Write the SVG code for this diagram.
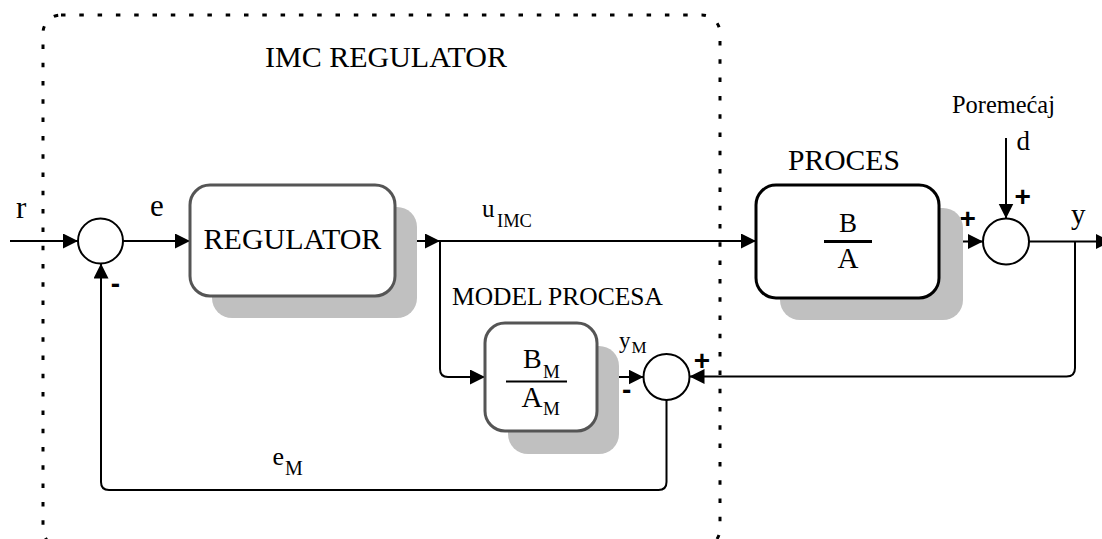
<svg xmlns="http://www.w3.org/2000/svg" width="1102" height="539" viewBox="0 0 1102 539">
  <style>
    text { font-family: "Liberation Serif", serif; fill: #000; }
    .sign { font-family: "Liberation Sans", sans-serif; font-weight: bold; font-size: 28px; text-anchor: middle; }
    .wire { fill: none; stroke: #000; stroke-width: 2; marker-end: url(#arrow); }
    .shadow { fill: #c0c0c0; stroke: none; }
    .box { fill: #fff; stroke: #555; stroke-width: 3; }
    .sum { fill: #fff; stroke: #000; stroke-width: 2; }
  </style>
  <defs>
    <marker id="arrow" markerUnits="userSpaceOnUse" markerWidth="16" markerHeight="16" refX="15" refY="7.5" orient="auto">
      <path d="M0,0 L15,7.5 L0,15 z" fill="#000"/>
    </marker>
  </defs>

  <rect width="1102" height="539" fill="#fff"/>

  <!-- dotted boundary of the IMC controller -->
  <g id="imc-boundary">
    <rect x="43" y="15" width="677" height="532" rx="18" ry="18" fill="none" stroke="#000" stroke-width="3" stroke-dasharray="4.5 13.8"/>
    <text x="265" y="67" font-size="30" font-family="Liberation Serif, serif">IMC REGULATOR</text>
  </g>

  <!-- connectors -->
  <g id="connectors">
    <path class="wire" d="M10,241 H78"/>
    <path class="wire" d="M123,241 H190"/>
    <path class="wire" d="M395,241 H440"/>
    <path class="wire" d="M440,241 H756"/>
    <path class="wire" d="M440,241 V369 Q440,377 448,377 H485"/>
    <path class="wire" d="M597,377 H643.5"/>
    <path class="wire" d="M1075,241 V368 Q1075,376.5 1066.5,376.5 H689.5"/>
    <path class="wire" d="M666.5,400 V482 Q666.5,490 658.5,490 H109 Q101,490 101,482 V263.5"/>
    <path class="wire" d="M939,241.5 H983"/>
    <path class="wire" d="M1006,138 V218.5"/>
    <path class="wire" d="M1029,241.5 H1111"/>

    <text x="16" y="218" font-size="31">r</text>
    <text x="150" y="216" font-size="31">e</text>
    <text x="482" y="217" font-size="25">u</text>
    <text x="497" y="227" font-size="18.5">IMC</text>
    <text x="619" y="348" font-size="23">y</text>
    <text x="631.5" y="353" font-size="17">M</text>
    <text x="272.5" y="465" font-size="26">e</text>
    <text x="285" y="475" font-size="20">M</text>
    <text x="952" y="113" font-size="24.4">Poremećaj</text>
    <text x="1016.5" y="150" font-size="27">d</text>
    <text x="1071" y="224" font-size="29">y</text>

    <text class="sign" x="115.5" y="293">-</text>
    <text class="sign" x="626.7" y="399">-</text>
    <text class="sign" x="702" y="370">+</text>
    <text class="sign" x="967.8" y="228">+</text>
    <text class="sign" x="1022.8" y="206">+</text>
  </g>

  <!-- summing junctions -->
  <g id="sum-input">
    <circle class="sum" cx="100.5" cy="241" r="22.5"/>
  </g>
  <g id="sum-model">
    <circle class="sum" cx="666.5" cy="377" r="23"/>
  </g>
  <g id="sum-disturbance">
    <circle class="sum" cx="1006" cy="241.5" r="23"/>
  </g>

  <!-- controller block -->
  <g id="regulator">
    <rect class="shadow" x="212" y="207" width="205" height="111" rx="20"/>
    <rect class="box" x="190" y="185" width="205" height="111" rx="20"/>
    <text x="292.5" y="249" font-size="30" text-anchor="middle">REGULATOR</text>
  </g>

  <!-- process model block -->
  <g id="model">
    <text x="452" y="305" font-size="25.5">MODEL PROCESA</text>
    <rect class="shadow" x="508" y="346" width="111" height="108" rx="20"/>
    <rect class="box" x="485" y="323" width="112" height="108" rx="20"/>
    <text x="523" y="368" font-size="28">B</text>
    <text x="543" y="378" font-size="19">M</text>
    <line x1="506" y1="381.5" x2="567" y2="381.5" stroke="#000" stroke-width="2.2"/>
    <text x="521.5" y="407" font-size="29">A</text>
    <text x="543" y="415" font-size="19">M</text>
  </g>

  <!-- plant block -->
  <g id="process">
    <text x="788" y="170" font-size="29.6">PROCES</text>
    <rect class="shadow" x="780" y="208" width="183" height="112" rx="20"/>
    <rect x="756" y="185" width="183" height="113" rx="20" fill="#fff" stroke="#000" stroke-width="3"/>
    <text x="848" y="232" font-size="27" text-anchor="middle">B</text>
    <line x1="824" y1="241.5" x2="872" y2="241.5" stroke="#000" stroke-width="3"/>
    <text x="848" y="268" font-size="29" text-anchor="middle">A</text>
  </g>
</svg>
